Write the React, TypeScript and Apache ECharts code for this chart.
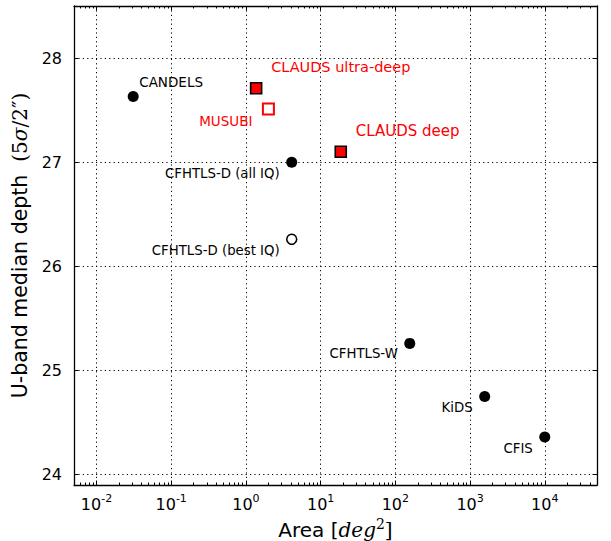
import React, { useEffect, useRef } from 'react';
import * as echarts from 'echarts';

// ---- data ----
const names = [
  'CANDELS',
  'CLAUDS ultra-deep',
  'MUSUBI',
  'CLAUDS deep',
  'CFHTLS-D (all IQ)',
  'CFHTLS-D (best IQ)',
  'CFHTLS-W',
  'KiDS',
  'CFIS',
];
const areas = [0.031, 1.37, 2.0, 18.6, 4.1, 4.1, 156, 1570, 10000];
const depths = [27.63, 27.71, 27.51, 27.1, 27.0, 26.26, 25.26, 24.75, 24.36];
const markerKinds = ['dot', 'redSquare', 'openRedSquare', 'redSquare', 'dot', 'openDot', 'dot', 'dot', 'dot'];

const xTicks = [0.01, 0.1, 1, 10, 100, 1000, 10000];
const xTickExponents = ['-2', '-1', '0', '1', '2', '3', '4'];
const yTicks = [24, 25, 26, 27, 28];
const xMinorMantissas = [2, 3, 4, 5, 6, 7, 8, 9];
const xDecades = [-3, -2, -1, 0, 1, 2, 3, 4];

const X_MIN = 0.005;
const X_MAX = 50000;
const Y_MIN = 23.9;
const Y_MAX = 28.5;

// ---- label placement (style only) ----
const labelStyle: Record<string, { align: 'left' | 'right'; dx: number; dy: number; color: string; size: number }> = {
  'CANDELS': { align: 'left', dx: 6, dy: -15, color: '#000', size: 13.5 },
  'CLAUDS ultra-deep': { align: 'left', dx: 15, dy: -21, color: '#ff0000', size: 14.5 },
  'MUSUBI': { align: 'right', dx: -16, dy: 12, color: '#ff0000', size: 13.5 },
  'CLAUDS deep': { align: 'left', dx: 15, dy: -21, color: '#ff0000', size: 15 },
  'CFHTLS-D (all IQ)': { align: 'right', dx: -12, dy: 11, color: '#000', size: 13.3 },
  'CFHTLS-D (best IQ)': { align: 'right', dx: -12, dy: 11, color: '#000', size: 13.3 },
  'CFHTLS-W': { align: 'right', dx: -12, dy: 10, color: '#000', size: 13.3 },
  'KiDS': { align: 'right', dx: -12, dy: 11, color: '#000', size: 13.3 },
  'CFIS': { align: 'right', dx: -12, dy: 11, color: '#000', size: 13.3 },
};

const markerStyle: Record<string, any> = {
  dot: { symbol: 'circle', symbolSize: 11, itemStyle: { color: '#000', borderColor: '#000', borderWidth: 0, opacity: 1 } },
  openDot: { symbol: 'circle', symbolSize: 10, itemStyle: { color: '#fff', borderColor: '#000', borderWidth: 1.6, opacity: 1 } },
  redSquare: { symbol: 'rect', symbolSize: 11, itemStyle: { color: '#ff0000', borderColor: '#000', borderWidth: 1.6, opacity: 1 } },
  openRedSquare: { symbol: 'rect', symbolSize: 11, itemStyle: { color: '#fff', borderColor: '#ff0000', borderWidth: 2, opacity: 1 } },
};

const FONT = 'DejaVu Sans';
const SERIF = 'DejaVu Serif';

export default function App() {
  const ref = useRef<HTMLDivElement>(null);

  useEffect(() => {
    if (!ref.current) return;
    const chart = echarts.init(ref.current, undefined, { renderer: 'svg' });

    const xMinor: number[] = [];
    xDecades.forEach((d) => {
      xMinorMantissas.forEach((m) => {
        const v = m * Math.pow(10, d);
        if (v > X_MIN && v < X_MAX) xMinor.push(v);
      });
    });

    const kinds = ['dot', 'openDot', 'redSquare', 'openRedSquare'];
    const series = kinds.map((kind) => {
      const ms = markerStyle[kind];
      const data = names
        .map((n, i) => ({ n, i }))
        .filter(({ i }) => markerKinds[i] === kind)
        .map(({ n, i }) => {
          const ls = labelStyle[n];
          return {
            name: n,
            value: [areas[i], depths[i]],
            label: {
              show: true,
              formatter: n,
              position: 'inside',
              align: ls.align,
              verticalAlign: 'middle',
              offset: [ls.dx, ls.dy],
              color: ls.color,
              opacity: 1,
              fontSize: ls.size,
              fontFamily: FONT,
            },
          };
        });
      return {
        type: 'scatter',
        xAxisIndex: 0,
        yAxisIndex: 0,
        symbol: ms.symbol,
        symbolSize: ms.symbolSize,
        itemStyle: ms.itemStyle,
        emphasis: { disabled: true },
        data,
        z: 5,
      };
    });

    const axisLineStyle = { color: '#000', width: 1.3 };

    const majorX = (position: 'top' | 'bottom', withLabels: boolean) => ({
      type: 'log',
      logBase: 10,
      min: X_MIN,
      max: X_MAX,
      position,
      gridIndex: 0,
      axisLine: { show: true, onZero: false, lineStyle: axisLineStyle },
      axisTick: { show: true, inside: true, length: 4.5, customValues: xTicks, lineStyle: { color: '#000', width: 1 } },
      axisLabel: withLabels
        ? {
            show: true,
            customValues: xTicks,
            margin: 8,
            color: '#000',
            fontFamily: FONT,
            fontSize: 16,
            formatter: (v: number) => {
              const e = Math.round(Math.log10(v));
              const idx = xTicks.findIndex((t) => Math.round(Math.log10(t)) === e);
              return '10{sup|' + (idx >= 0 ? xTickExponents[idx] : String(e)) + '}';
            },
            rich: {
              sup: { fontSize: 11, fontFamily: FONT, color: '#000', verticalAlign: 'top', lineHeight: 22 },
            },
          }
        : { show: false },
      splitLine: withLabels
        ? { show: true, lineStyle: { color: '#000', width: 1, type: [1.2, 3.2] } }
        : { show: false },
      name: withLabels ? 'Area [{mi|deg}{sup|2}{br|]}' : '',
      nameLocation: 'middle',
      nameGap: 28,
      nameTextStyle: {
        fontFamily: FONT,
        fontSize: 20,
        color: '#000',
        rich: {
          mi: { fontFamily: SERIF, fontStyle: 'italic', fontSize: 20, color: '#000' },
          sup: { fontFamily: SERIF, fontSize: 14, color: '#000', verticalAlign: 'top', lineHeight: 26 },
          br: { fontFamily: SERIF, fontSize: 20, color: '#000' },
        },
      },
    });

    const minorX = (position: 'top' | 'bottom') => ({
      type: 'log',
      logBase: 10,
      min: X_MIN,
      max: X_MAX,
      position,
      gridIndex: 0,
      axisLine: { show: false },
      axisTick: { show: true, inside: true, length: 2.5, customValues: xMinor, lineStyle: { color: '#000', width: 1 } },
      axisLabel: { show: false },
      splitLine: { show: false },
    });

    const option: any = {
      animation: false,
      backgroundColor: '#fff',
      textStyle: { fontFamily: FONT },
      grid: { left: 74, right: 14, top: 6, bottom: 56, containLabel: false, outerBoundsMode: 'none' },
      xAxis: [majorX('bottom', true), majorX('top', false), minorX('bottom'), minorX('top')],
      yAxis: [
        {
          type: 'value',
          min: Y_MIN,
          max: Y_MAX,
          position: 'left',
          gridIndex: 0,
          axisLine: { show: true, onZero: false, lineStyle: axisLineStyle },
          axisTick: { show: true, inside: true, length: 4.5, customValues: yTicks, lineStyle: { color: '#000', width: 1 } },
          axisLabel: { show: true, customValues: yTicks, margin: 12, color: '#000', fontFamily: FONT, fontSize: 16 },
          splitLine: { show: true, lineStyle: { color: '#000', width: 1, type: [1.2, 3.2] } },
          name: 'U-band median depth  {m|(5}{mi|σ}{m|/2″)}',
          nameLocation: 'middle',
          nameRotate: 90,
          nameGap: 33,
          nameTextStyle: {
            fontFamily: FONT,
            fontSize: 20.5,
            color: '#000',
            rich: {
              m: { fontFamily: SERIF, fontSize: 20, color: '#000' },
              mi: { fontFamily: SERIF, fontStyle: 'italic', fontSize: 20, color: '#000' },
            },
          },
        },
        {
          type: 'value',
          min: Y_MIN,
          max: Y_MAX,
          position: 'right',
          gridIndex: 0,
          axisLine: { show: true, onZero: false, lineStyle: axisLineStyle },
          axisTick: { show: true, inside: true, length: 4.5, customValues: yTicks, lineStyle: { color: '#000', width: 1 } },
          axisLabel: { show: false },
          splitLine: { show: false },
        },
      ],
      series,
    };

    chart.setOption(option);
    return () => chart.dispose();
  }, []);

  return <div ref={ref} style={{ width: 611, height: 541, position: 'absolute', left: 0, top: 0 }} />;
}
